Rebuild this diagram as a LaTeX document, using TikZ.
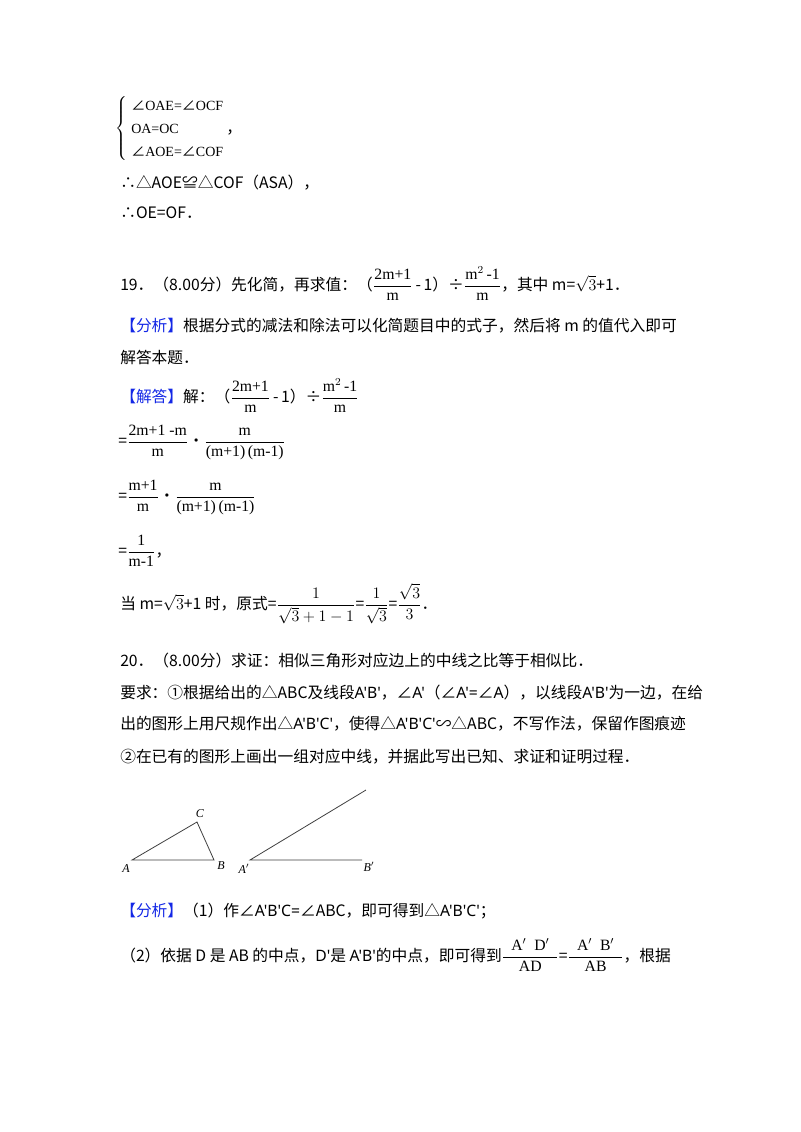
\documentclass[tikz,border=0pt]{standalone}
\usepackage{amsmath}
\usepackage{fontspec}
\setmainfont{Noto Sans CJK SC}
\newfontfamily\fml{Liberation Serif}
\newfontfamily\ls{Noto Sans}
\definecolor{hd}{RGB}{20,40,230}
\newcommand{\fr}[2]{$\dfrac{\text{\fml #1}}{\text{\fml #2}}$}
\newcommand{\wfr}[2]{$\dfrac{\text{\fml\ \ #1\ \ }}{\text{\fml #2}}$}
\newcommand{\ag}{{\rmfamily ∠}}
\begin{document}
\begin{tikzpicture}[x=0.75pt,y=-0.75pt,
  ln/.style={anchor=base west,inner sep=0pt,font=\fontsize{11.8}{14}\selectfont},
  fs/.style={anchor=base west,inner sep=0pt,font=\fontsize{10.5}{12}\fml},
  fig/.style={draw=black!75,line width=0.6pt},
  lab/.style={inner sep=0pt,font=\fontsize{9}{10}\fml\itshape}]
\useasboundingbox[fill=white] (0,0) rectangle (800,1132);
% brace system
\node[inner sep=0pt,anchor=west] (b0) at (115,128) {$\left\{\rule[-21pt]{0pt}{43pt}\right.$};
\node[fs] (b1) at (131,110) {\ag OAE=\ag OCF};
\node[fs] (b2) at (131,133) {OA=OC};
\node[fs] (b3) at (131,156) {\ag AOE=\ag COF};
\node[ln] (bc) at (226,133) {，};
\node[ln] (l1) at (120,188) {∴△AOE≌△COF（ASA），};
\node[ln] (l2) at (120,218) {∴OE=OF．};
\node[ln] (l3) at (120,290) {19．（8.00分）先化简，再求值：（\fr{2m+1}{m}\,-\,1）÷\fr{m$^2$\,-1}{m}，其中 m=$\sqrt{3}$+1．};
\node[ln] (l4) at (120,331) {\textcolor{hd}{【分析】}根据分式的减法和除法可以化简题目中的式子，然后将 m 的值代入即可};
\node[ln] (l5) at (120,363) {解答本题．};
\node[ln] (l6) at (120,402) {\textcolor{hd}{【解答】}解：（\fr{2m+1}{m}\,-\,1）÷\fr{m$^2$\,-1}{m}};
\node[ln] (l7) at (118,446) {=\fr{2m+1 -m}{m}•\fr{m}{(m+1)\,(m-1)}};
\node[ln] (l8) at (118,501) {=\fr{m+1}{m}•\fr{m}{(m+1)\,(m-1)}};
\node[ln] (l9) at (118,556) {=\fr{1}{m-1}，};
\node[ln] (l10) at (120,609) {当 m=$\sqrt{3}$+1 时，原式=$\dfrac{1}{\sqrt{3}+1-1}$=$\dfrac{1}{\sqrt{3}}$=$\dfrac{\sqrt{3}}{3}$．};
\node[ln] (l11) at (120,666) {20．（8.00分）求证：相似三角形对应边上的中线之比等于相似比．};
\node[ln] (l12) at (120,698) {要求：①根据给出的△ABC及线段{\ls A'B'}，∠{\ls A'}（∠{\ls A'=}∠{\ls A}），以线段{\ls A'B'}为一边，在给};
\node[ln] (l13) at (120,729) {出的图形上用尺规作出△{\ls A'B'C'}，使得△{\ls A'B'C'}∽△ABC，不写作法，保留作图痕迹};
\node[ln] (l14) at (120,762) {②在已有的图形上画出一组对应中线，并据此写出已知、求证和证明过程．};
% figure
\coordinate (A) at (132,860); \coordinate (B) at (214,860); \coordinate (C) at (197,822);
\coordinate (A2) at (250,860); \coordinate (B2) at (362,860); \coordinate (R) at (366,790);
\draw[fig] (A) -- (B) -- (C) -- cycle;
\draw[fig] (R) -- (A2) -- (B2);
\node[lab] (tA) at (126,869) {A};
\node[lab] (tB) at (221,866) {B};
\node[lab] (tC) at (200,814) {C};
\node[lab] (tA2) at (244,869) {A$'$};
\node[lab] (tB2) at (369,867) {B$'$};
\node[ln] (l15) at (120,916) {\textcolor{hd}{【分析】}（1）作∠{\ls A'B'C=}∠ABC，即可得到△{\ls A'B'C'}；};
\node[ln] (l16) at (120,961) {（2）依据 D 是 AB 的中点，{\ls D'}是 {\ls A'B'}的中点，即可得到\wfr{A$'$\ \ D$'$}{AD}=\wfr{A$'$\ \ B$'$}{AB}，根据};
\end{tikzpicture}
\end{document}
